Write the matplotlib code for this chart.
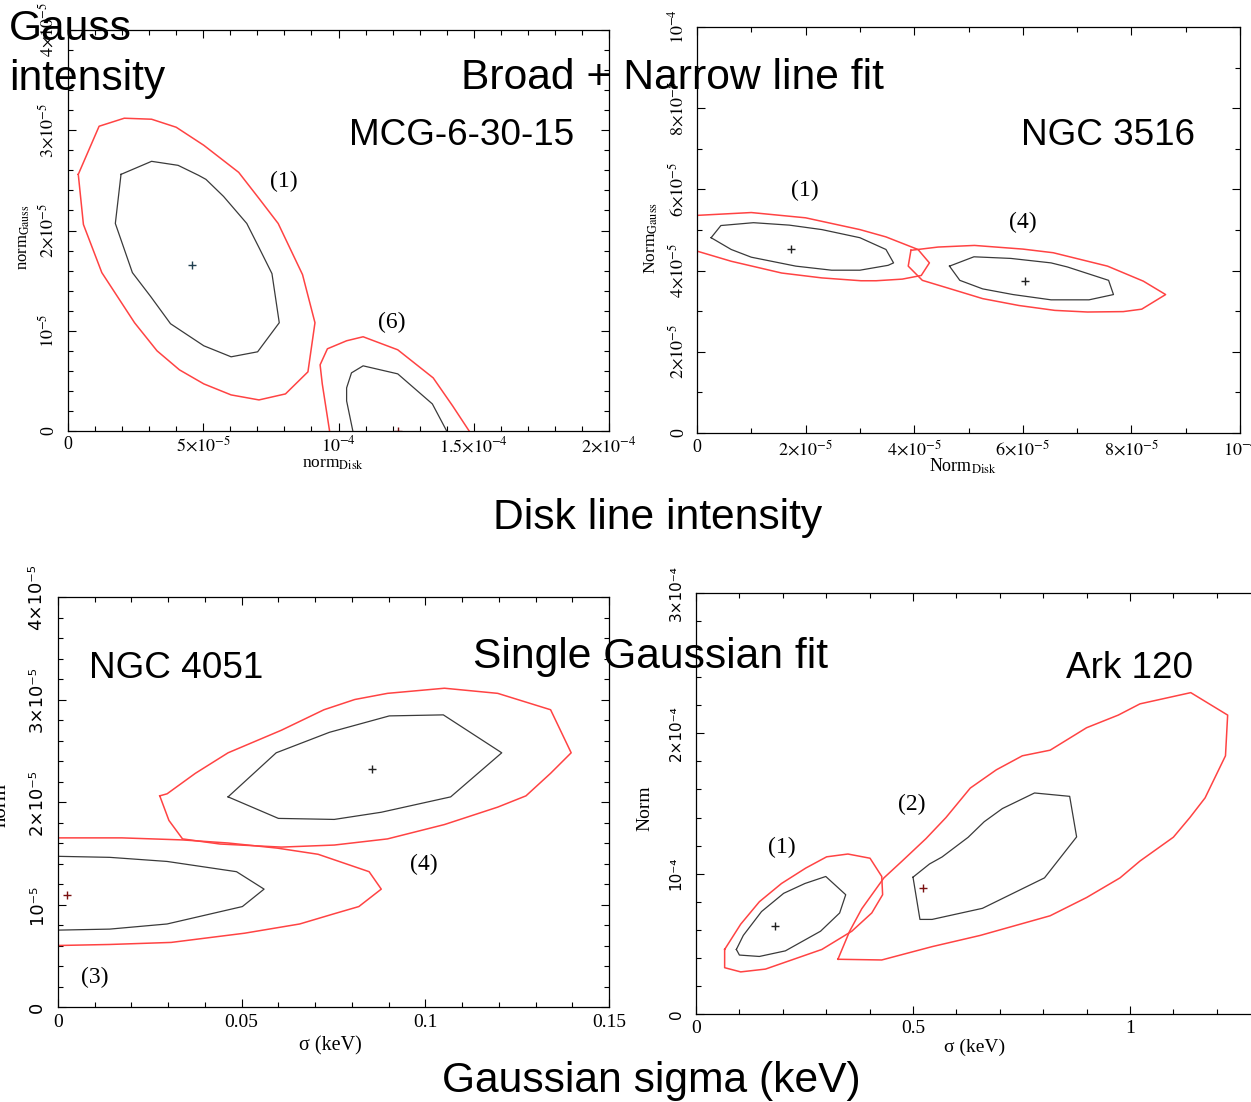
import matplotlib
matplotlib.use("Agg")
import numpy as np
import matplotlib.pyplot as plt
from matplotlib.ticker import FixedLocator, FixedFormatter, MultipleLocator

plt.rcParams['font.family'] = ['Liberation Serif', 'DejaVu Serif']
plt.rcParams['mathtext.fontset'] = 'stix'

W, H = 1251, 1102
RED = '#ff4343'
DARK = '#3a3a3a'
DARKRED = '#7a1010'

# ---------------- MCG-6-30-15 (norm_Disk, norm_Gauss in 1e-5) ----------------
mcg1_red_x = [0.38, 1.15, 2.08, 3.09, 4.00, 5.02, 6.31, 7.06, 7.77, 8.67, 9.13,
              8.87, 8.04, 7.06, 6.03, 5.02, 4.12, 3.29, 2.46, 1.25, 0.57]
mcg1_red_y = [2.56, 3.04, 3.12, 3.11, 3.03, 2.85, 2.58, 2.32, 2.07, 1.56, 1.08,
              0.59, 0.37, 0.31, 0.36, 0.47, 0.61, 0.80, 1.08, 1.58, 2.06]
mcg1_blk_x = [1.96, 3.09, 4.07, 4.83, 5.10, 5.75, 6.61, 7.06, 7.54, 7.81, 7.01,
              6.03, 5.02, 3.79, 3.06, 2.38, 1.75]
mcg1_blk_y = [2.56, 2.69, 2.65, 2.55, 2.51, 2.34, 2.07, 1.83, 1.57, 1.08, 0.79,
              0.74, 0.85, 1.07, 1.34, 1.58, 2.07]
mcg6_red_x = [9.67, 9.40, 9.32, 9.59, 10.30, 10.91, 12.19, 13.50, 14.22, 14.83]
mcg6_red_y = [0.0, 0.47, 0.66, 0.82, 0.90, 0.94, 0.81, 0.53, 0.25, 0.0]
mcg6_blk_x = [10.53, 10.30, 10.30, 10.48, 10.91, 12.19, 13.47, 14.00]
mcg6_blk_y = [0.0, 0.30, 0.43, 0.58, 0.65, 0.57, 0.27, 0.0]
mcg_best = [(4.57, 1.66), (12.19, 0.0)]

# ---------------- NGC 3516 (Norm_Disk, Norm_Gauss in 1e-5) ----------------
n3516_1_red_x = [0.0, 1.00, 2.00, 3.00, 3.48, 4.07, 4.28, 4.13, 3.78, 3.30, 3.02,
                 2.30, 1.56, 0.63, 0.0]
n3516_1_red_y = [5.36, 5.43, 5.30, 5.01, 4.83, 4.52, 4.19, 3.88, 3.79, 3.75, 3.75,
                 3.82, 3.94, 4.23, 4.48]
n3516_1_blk_x = [0.26, 0.44, 1.04, 1.70, 2.30, 3.00, 3.48, 3.62, 3.52, 3.00, 2.48,
                 1.82, 1.00, 0.63]
n3516_1_blk_y = [4.81, 5.11, 5.18, 5.12, 5.01, 4.81, 4.52, 4.19, 4.13, 4.01, 4.01,
                 4.11, 4.33, 4.52]
n3516_4_red_x = [3.94, 4.44, 5.11, 6.00, 6.56, 7.56, 8.22, 8.63, 8.19, 7.85, 7.19,
                 6.59, 5.93, 5.26, 4.67, 4.15, 3.89]
n3516_4_red_y = [4.50, 4.58, 4.62, 4.53, 4.44, 4.11, 3.74, 3.41, 3.05, 2.99, 2.98,
                 3.02, 3.14, 3.31, 3.55, 3.76, 4.11]
n3516_4_blk_x = [4.65, 5.10, 5.78, 6.52, 6.82, 7.58, 7.67, 7.22, 6.52, 5.82, 5.26, 4.84]
n3516_4_blk_y = [4.11, 4.34, 4.30, 4.19, 4.09, 3.76, 3.41, 3.28, 3.28, 3.41, 3.55, 3.76]
n3516_best = [(1.74, 4.53), (6.04, 3.75)]

# ---------------- NGC 4051 (sigma keV, norm in 1e-5) ----------------
n4051_4_red_x = [0.0277, 0.0297, 0.0374, 0.0463, 0.0608, 0.0724, 0.0808, 0.0897,
                 0.1052, 0.1197, 0.1341, 0.1397, 0.1341, 0.1274, 0.1197, 0.1052,
                 0.0897, 0.0752, 0.0608, 0.0441, 0.0339, 0.0302]
n4051_4_red_y = [2.06, 2.08, 2.28, 2.48, 2.70, 2.90, 3.00, 3.06, 3.11, 3.06, 2.90,
                 2.48, 2.28, 2.06, 1.95, 1.78, 1.64, 1.58, 1.56, 1.59, 1.64, 1.82]
n4051_4_blk_x = [0.0463, 0.0594, 0.0739, 0.0902, 0.1049, 0.1208, 0.1069, 0.0880,
                 0.0752, 0.0600]
n4051_4_blk_y = [2.05, 2.48, 2.68, 2.84, 2.85, 2.48, 2.05, 1.90, 1.83, 1.84]
n4051_3_red_x = [0.0, 0.0174, 0.0339, 0.0463, 0.0597, 0.0708, 0.0847, 0.0880,
                 0.0819, 0.0752, 0.0658, 0.0508, 0.0308, 0.0141, 0.0]
n4051_3_red_y = [1.65, 1.65, 1.63, 1.60, 1.55, 1.49, 1.32, 1.15, 0.98, 0.91, 0.81,
                 0.72, 0.63, 0.61, 0.60]
n4051_3_blk_x = [0.0, 0.0141, 0.0297, 0.0486, 0.0561, 0.0502, 0.0297, 0.0141, 0.0]
n4051_3_blk_y = [1.47, 1.46, 1.42, 1.32, 1.15, 0.98, 0.81, 0.76, 0.75]
n4051_best = [(0.0856, 2.32), (0.0024, 1.09)]

# ---------------- Ark 120 (sigma keV, norm in 1e-4) ----------------
ark1_red_x = [0.066, 0.103, 0.146, 0.197, 0.253, 0.301, 0.350, 0.401, 0.428, 0.430,
              0.405, 0.359, 0.290, 0.225, 0.160, 0.103, 0.066]
ark1_red_y = [0.46, 0.64, 0.80, 0.93, 1.04, 1.12, 1.14, 1.11, 0.98, 0.85, 0.72,
              0.59, 0.46, 0.39, 0.32, 0.30, 0.33]
ark1_blk_x = [0.093, 0.109, 0.151, 0.202, 0.251, 0.299, 0.345, 0.331, 0.287, 0.206,
              0.146, 0.100]
ark1_blk_y = [0.46, 0.56, 0.73, 0.86, 0.93, 0.98, 0.85, 0.72, 0.59, 0.45, 0.41, 0.42]
ark2_red_x = [0.327, 0.354, 0.382, 0.433, 0.475, 0.530, 0.576, 0.632, 0.692, 0.752,
              0.816, 0.900, 0.973, 1.023, 1.140, 1.225, 1.220, 1.173, 1.138, 1.100,
              1.023, 0.977, 0.900, 0.816, 0.655, 0.544, 0.428]
ark2_red_y = [0.39, 0.59, 0.75, 0.97, 1.09, 1.25, 1.40, 1.61, 1.74, 1.84, 1.88,
              2.04, 2.13, 2.21, 2.29, 2.13, 1.84, 1.54, 1.40, 1.26, 1.09, 0.97,
              0.83, 0.70, 0.56, 0.48, 0.385]
ark2_blk_x = [0.500, 0.516, 0.544, 0.660, 0.803, 0.877, 0.861, 0.780, 0.706, 0.664,
              0.627, 0.567, 0.538]
ark2_blk_y = [0.975, 0.674, 0.674, 0.753, 0.970, 1.262, 1.551, 1.575, 1.464, 1.370,
              1.259, 1.119, 1.069]
ark_best = [(0.181, 0.63), (0.523, 0.90)]


def px_rect(left, top, right, bottom):
    return [left / W, 1 - bottom / H, (right - left) / W, (bottom - top) / H]


def fxy(x, y):
    return x / W, 1 - y / H


def closed(v):
    return list(v) + [v[0]]


def setup(ax, xlim, ylim, xt, xl, yt, yl, xminor, yminor, xsize, ysize,
          xpad, ypad, sans_y=False):
    ax.set_xlim(*xlim)
    ax.set_ylim(*ylim)
    ax.xaxis.set_major_locator(FixedLocator(xt))
    ax.xaxis.set_major_formatter(FixedFormatter(xl))
    ax.yaxis.set_major_locator(FixedLocator(yt))
    ax.yaxis.set_major_formatter(FixedFormatter(yl))
    ax.xaxis.set_minor_locator(MultipleLocator(xminor))
    ax.yaxis.set_minor_locator(MultipleLocator(yminor))
    ax.tick_params(which='both', direction='in', top=True, right=True, width=0.8)
    ax.tick_params(which='major', length=6)
    ax.tick_params(which='minor', length=3.3)
    ax.tick_params(axis='x', labelsize=xsize, pad=xpad)
    ax.tick_params(axis='y', labelsize=ysize, pad=ypad, labelrotation=90)
    if sans_y:
        ax.tick_params(axis='y', labelfontfamily='DejaVu Sans')
    for t in ax.yaxis.get_major_ticks():
        t.label1.set_va('center')
    for s in ax.spines.values():
        s.set_linewidth(0.9)


fig = plt.figure(figsize=(W / 100, H / 100), dpi=100)
e5 = 1e-5
e4 = 1e-4

# ---- panel 1: MCG-6-30-15 ----
ax1 = fig.add_axes(px_rect(68, 30, 609, 431))
for xs, ys, c, cl in [(mcg1_red_x, mcg1_red_y, RED, True), (mcg1_blk_x, mcg1_blk_y, DARK, True),
                      (mcg6_red_x, mcg6_red_y, RED, False), (mcg6_blk_x, mcg6_blk_y, DARK, False)]:
    ax1.plot(np.array(closed(xs) if cl else xs) * e5, np.array(closed(ys) if cl else ys) * e5,
             color=c, lw=1.1 if c == RED else 0.9)
ax1.plot(mcg_best[0][0] * e5, mcg_best[0][1] * e5, '+', color='#1f3f4f', ms=6, mew=1)
ax1.plot(mcg_best[1][0] * e5, mcg_best[1][1] * e5, '+', color=DARKRED, ms=6, mew=1)
setup(ax1, (0, 2e-4), (0, 4e-5),
      [0, 5e-5, 1e-4, 1.5e-4, 2e-4],
      ['0', r'$5{\times}10^{-5}$', r'$10^{-4}$', r'$1.5{\times}10^{-4}$', r'$2{\times}10^{-4}$'],
      [0, 1e-5, 2e-5, 3e-5, 4e-5],
      ['0', r'$10^{-5}$', r'$2{\times}10^{-5}$', r'$3{\times}10^{-5}$', r'$4{\times}10^{-5}$'],
      1e-5, 2e-6, 13, 13, 3.5, 7.5)
ax1.text(7.96e-5, 2.49e-5, '(1)', fontsize=17, ha='center', va='center')
ax1.text(11.96e-5, 1.08e-5, '(6)', fontsize=17, ha='center', va='center')
ax1.set_xlabel(r'norm$_{\mathrm{Disk}}$', fontsize=12.5)
ax1.xaxis.set_label_coords(*fxy(333, 456), transform=fig.transFigure)
ax1.set_ylabel(r'norm$_{\mathrm{Gauss}}$', fontsize=12)
ax1.yaxis.set_label_coords(*fxy(32, 237), transform=fig.transFigure)

# ---- panel 2: NGC 3516 ----
ax2 = fig.add_axes(px_rect(697, 27, 1240, 433))
for xs, ys, c, cl in [(n3516_1_red_x, n3516_1_red_y, RED, False),
                      (n3516_1_blk_x, n3516_1_blk_y, DARK, True),
                      (n3516_4_red_x, n3516_4_red_y, RED, True),
                      (n3516_4_blk_x, n3516_4_blk_y, DARK, True)]:
    ax2.plot(np.array(closed(xs) if cl else xs) * e5, np.array(closed(ys) if cl else ys) * e5,
             color=c, lw=1.1 if c == RED else 0.9)
for bx, by in n3516_best:
    ax2.plot(bx * e5, by * e5, '+', color='#222222', ms=6, mew=1)
setup(ax2, (0, 1e-4), (0, 1e-4),
      [0, 2e-5, 4e-5, 6e-5, 8e-5, 1e-4],
      ['0', r'$2{\times}10^{-5}$', r'$4{\times}10^{-5}$', r'$6{\times}10^{-5}$',
       r'$8{\times}10^{-5}$', r'$10^{-4}$'],
      [0, 2e-5, 4e-5, 6e-5, 8e-5, 1e-4],
      ['0', r'$2{\times}10^{-5}$', r'$4{\times}10^{-5}$', r'$6{\times}10^{-5}$',
       r'$8{\times}10^{-5}$', r'$10^{-4}$'],
      1e-5, 1e-5, 13, 13, 4.5, 7)
ax2.text(1.98e-5, 5.98e-5, '(1)', fontsize=17, ha='center', va='center')
ax2.text(6.0e-5, 5.18e-5, '(4)', fontsize=17, ha='center', va='center')
ax2.set_xlabel(r'Norm$_{\mathrm{Disk}}$', fontsize=13)
ax2.xaxis.set_label_coords(*fxy(963, 457), transform=fig.transFigure)
ax2.set_ylabel(r'Norm$_{\mathrm{Gauss}}$', fontsize=12.5)
ax2.yaxis.set_label_coords(*fxy(660, 238), transform=fig.transFigure)

# ---- panel 3: NGC 4051 ----
ax3 = fig.add_axes(px_rect(58, 597, 609, 1007))
for xs, ys, c, cl in [(n4051_4_red_x, n4051_4_red_y, RED, True),
                      (n4051_4_blk_x, n4051_4_blk_y, DARK, True),
                      (n4051_3_red_x, n4051_3_red_y, RED, False),
                      (n4051_3_blk_x, n4051_3_blk_y, DARK, False)]:
    ax3.plot(closed(xs) if cl else xs, np.array(closed(ys) if cl else ys) * e5,
             color=c, lw=1.1 if c == RED else 0.9)
ax3.plot(n4051_best[0][0], n4051_best[0][1] * e5, '+', color='#222222', ms=6, mew=1)
ax3.plot(n4051_best[1][0], n4051_best[1][1] * e5, '+', color=DARKRED, ms=6, mew=1)
setup(ax3, (0, 0.15), (0, 4e-5),
      [0, 0.05, 0.1, 0.15], ['0', '0.05', '0.1', '0.15'],
      [0, 1e-5, 2e-5, 3e-5, 4e-5],
      ['0', '10⁻⁵', '2×10⁻⁵', '3×10⁻⁵', '4×10⁻⁵'],
      0.01, 2e-6, 14, 13, 5, 9, sans_y=True)
ax3.text(0.0997, 1.39e-5, '(4)', fontsize=17, ha='center', va='center')
ax3.text(0.0099, 0.29e-5, '(3)', fontsize=17, ha='center', va='center')
ax3.set_xlabel('σ (keV)', fontsize=14.5)
ax3.xaxis.set_label_coords(*fxy(330, 1036), transform=fig.transFigure)
ax3.set_ylabel('norm', fontsize=15)
ax3.yaxis.set_label_coords(*fxy(11, 805), transform=fig.transFigure)

# ---- panel 4: Ark 120 ----
ax4 = fig.add_axes(px_rect(696, 593, 696 + 1.4 * 434, 1014))
for xs, ys, c in [(ark1_red_x, ark1_red_y, RED), (ark1_blk_x, ark1_blk_y, DARK),
                  (ark2_red_x, ark2_red_y, RED), (ark2_blk_x, ark2_blk_y, DARK)]:
    ax4.plot(closed(xs), np.array(closed(ys)) * e4, color=c, lw=1.1 if c == RED else 0.9)
ax4.plot(ark_best[0][0], ark_best[0][1] * e4, '+', color='#222222', ms=6, mew=1)
ax4.plot(ark_best[1][0], ark_best[1][1] * e4, '+', color=DARKRED, ms=6, mew=1)
setup(ax4, (0, 1.4), (0, 3e-4),
      [0, 0.5, 1.0], ['0', '0.5', '1'],
      [0, 1e-4, 2e-4, 3e-4],
      ['0', '10⁻⁴', '2×10⁻⁴', '3×10⁻⁴'],
      0.1, 2e-5, 14, 11, 4.5, 9, sans_y=True)
ax4.text(0.197, 1.19e-4, '(1)', fontsize=17, ha='center', va='center')
ax4.text(0.498, 1.49e-4, '(2)', fontsize=17, ha='center', va='center')
ax4.set_xlabel('σ (keV)', fontsize=14)
ax4.xaxis.set_label_coords(*fxy(975, 1039), transform=fig.transFigure)
ax4.set_ylabel('Norm', fontsize=14)
ax4.yaxis.set_label_coords(*fxy(653, 808), transform=fig.transFigure)

# ---- overlay annotations ----
big = dict(family=['Liberation Sans', 'DejaVu Sans'], fontsize=30.7, va='baseline', ha='left')
mid = dict(family=['Liberation Sans', 'DejaVu Sans'], fontsize=26.6, va='baseline', ha='left')
fig.text(*fxy(9, 40), 'Gauss', **big)
fig.text(*fxy(9, 90), 'intensity', **big)
fig.text(*fxy(461, 89), 'Broad + Narrow line fit', **big)
fig.text(*fxy(349, 145), 'MCG-6-30-15', **mid)
fig.text(*fxy(1021, 145), 'NGC 3516', **mid)
fig.text(*fxy(493, 529), 'Disk line intensity', **big)
fig.text(*fxy(89, 678), 'NGC 4051', **mid)
fig.text(*fxy(473, 668), 'Single Gaussian fit', **big)
fig.text(*fxy(1066, 678), 'Ark 120', **mid)
fig.text(*fxy(442, 1092), 'Gaussian sigma (keV)', **big)

fig.savefig('out.png', dpi=100)
